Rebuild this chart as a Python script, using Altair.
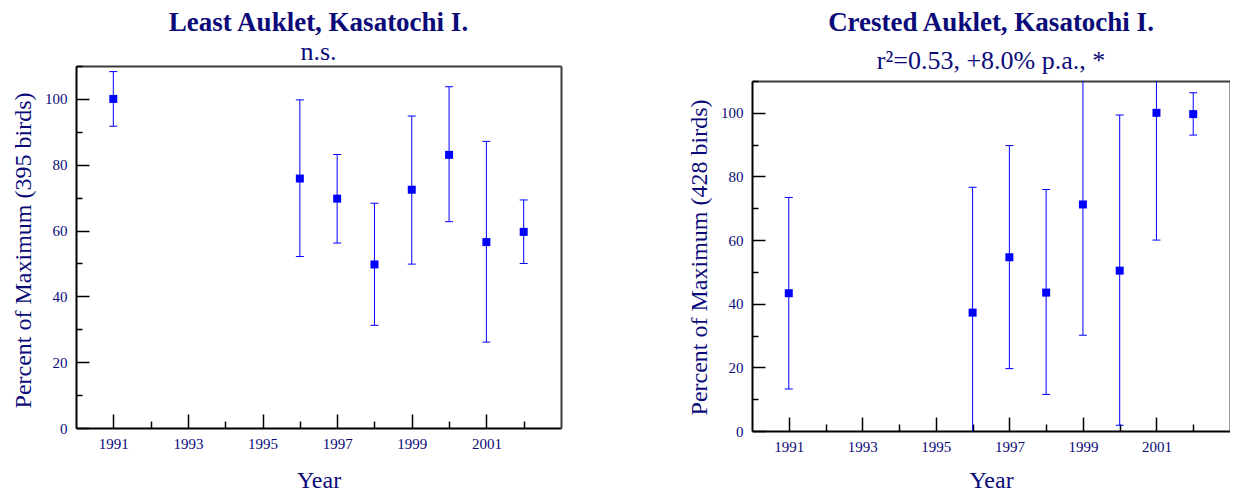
import altair as alt
import pandas as pd

# ---- data ----
years = [1991, 1996, 1997, 1998, 1999, 2000, 2001, 2002]

least_mean = [100.0, 75.8, 69.7, 49.7, 72.4, 83.0, 56.5, 59.6]
least_upper = [108.3, 99.7, 83.1, 68.3, 94.8, 103.7, 87.1, 69.3]
least_lower = [91.7, 52.1, 56.2, 31.2, 49.8, 62.7, 26.1, 50.0]

crested_mean = [43.3, 37.2, 54.6, 43.5, 71.2, 50.4, 100.0, 99.6]
crested_upper = [73.4, 76.6, 89.7, 75.9, 112.3, 99.3, 140.0, 106.3]
crested_lower = [13.2, -2.2, 19.6, 11.5, 30.1, 1.8, 60.0, 93.0]

major_years = [1991, 1993, 1995, 1997, 1999, 2001]
minor_years = [1992, 1994, 1996, 1998, 2000, 2002]
major_pct = [0, 20, 40, 60, 80, 100]
minor_pct = [10, 30, 50, 70, 90, 110]

BLUE = "#0000ff"
NAVY = "#0a0a78"
FRAME = "#3a3a3a"
FONT = "Liberation Serif"


def panel(title, subtitle, ytitle, mean, upper, lower, w, htot, gap,
          sub_pad, offset, ty, xty):
    df = pd.DataFrame({"year": years, "mean": mean, "upper": upper, "lower": lower})
    xs = alt.Scale(domain=[1990, 2003], nice=False, zero=False)
    ys = alt.Scale(domain=[0, 110], range=[htot, gap], nice=False, zero=False, clamp=True)
    base = alt.Chart(df)
    h = htot - gap

    bars = base.mark_rule(color=BLUE, strokeWidth=1, clip=True).encode(
        x=alt.X("year:Q", scale=xs, axis=alt.Axis(
            values=major_years, format="d", orient="bottom", tickSize=0,
            labelPadding=8, domainColor="black", domainWidth=2,
            title="Year", titleY=xty, titleBaseline="middle")),
        y=alt.Y("lower:Q", scale=ys, axis=alt.Axis(
            values=major_pct, orient="left", tickSize=0, labelPadding=9,
            domainColor="black", domainWidth=2,
            title=ytitle, titleX=-53, titleY=gap + h / 2 + ty, titleAngle=270,
            titleAlign="center", titleBaseline="middle")),
        y2="upper:Q",
    )

    caps = base.transform_fold(["upper", "lower"], as_=["which", "val"]).transform_filter(
        "datum.val >= 0 && datum.val <= 110"
    ).mark_point(
        shape="M-1,0L1,0", size=64, color=BLUE, filled=False, strokeWidth=1,
        opacity=1, clip=True,
    ).encode(
        x=alt.X("year:Q", scale=xs, axis=alt.Axis(
            values=major_years, orient="top", offset=-htot, tickSize=14,
            labels=False, domain=False, title=None, tickColor="black", tickWidth=1.5)),
        y=alt.Y("val:Q", scale=ys, axis=alt.Axis(
            values=major_pct, orient="right", offset=-w, tickSize=13,
            labels=False, domain=False, title=None, tickColor="black", tickWidth=1.5)),
    )

    pts = base.mark_square(size=64, color=BLUE, opacity=1, clip=True).encode(
        x=alt.X("year:Q", scale=xs, axis=alt.Axis(
            values=minor_years, orient="top", offset=-htot, tickSize=7,
            labels=False, domain=False, title=None, tickColor="black", tickWidth=1.5)),
        y=alt.Y("mean:Q", scale=ys, axis=alt.Axis(
            values=minor_pct, orient="right", offset=-w, tickSize=6,
            labels=False, domain=False, title=None, tickColor="black", tickWidth=1.5)),
    )

    # invisible layer that only carries the top and right frame lines
    frame = base.mark_point(opacity=0).encode(
        x=alt.X("year:Q", scale=xs, axis=alt.Axis(
            orient="top", offset=-gap, ticks=False, labels=False, title=None,
            domain=True, domainColor=FRAME, domainWidth=2)),
        y=alt.Y("mean:Q", scale=ys, axis=alt.Axis(
            orient="right", ticks=False, labels=False, title=None,
            domain=True, domainColor=FRAME, domainWidth=2)),
    )

    return alt.layer(frame, bars, caps, pts).resolve_axis(
        x="independent", y="independent"
    ).properties(
        width=w, height=htot,
        title=alt.TitleParams(
            text=title, subtitle=subtitle, anchor="middle",
            font=FONT, fontSize=27, fontWeight="bold", color=NAVY,
            subtitleFont=FONT, subtitleFontSize=26, subtitleColor=NAVY,
            subtitlePadding=sub_pad, offset=offset,
        ),
    )


left = panel("Least Auklet, Kasatochi I.", "n.s.", "Percent of Maximum (395 birds)",
             least_mean, least_upper, least_lower, 485, 362, 0, 2, -0.5, 3, 52)
right = panel("Crested Auklet, Kasatochi I.", "r²=0.53, +8.0% p.a., *",
              "Percent of Maximum (428 birds)",
              crested_mean, crested_upper, crested_lower, 478, 365, 15, 11, -9, 1, 49)

chart = alt.concat(left, right, columns=2, spacing=125).properties(
    padding={"left": 2, "top": 0, "right": 0, "bottom": 0}
).configure_view(
    strokeWidth=0
).configure_axis(
    labelFont=FONT, labelFontSize=15, labelColor=NAVY,
    titleFont=FONT, titleFontSize=24, titleColor=NAVY, titleFontWeight="normal",
    grid=False,
)

chart.save("out.html", embed_options={"renderer": "svg", "actions": False})
